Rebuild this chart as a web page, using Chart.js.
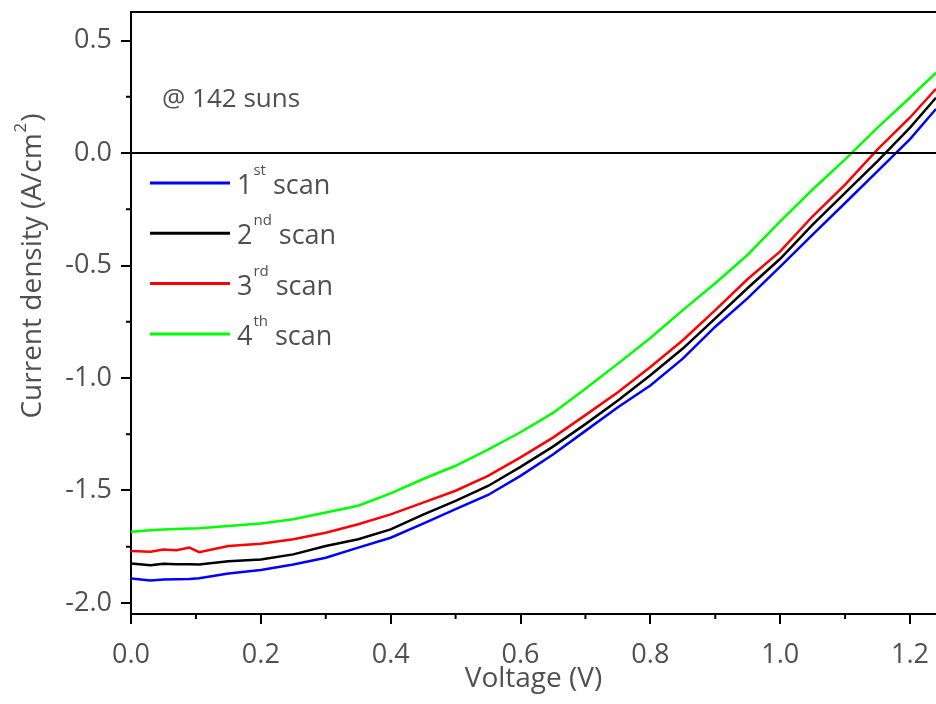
<!DOCTYPE html>
<html>
<head>
<meta charset="utf-8">
<script src="https://cdn.jsdelivr.net/npm/chart.js@4.4.0/dist/chart.umd.min.js"></script>
<style>
    html, body { margin: 0; padding: 0; background: #fff; }
    #wrap { width: 936px; height: 704px; }
</style>
</head>
<body>
<div id="wrap"><canvas id="chartIV" width="936" height="704"></canvas></div>
<script>
// voltage (V)
const voltage = [0, 0.03, 0.05, 0.07, 0.09, 0.105, 0.15, 0.2, 0.25, 0.3, 0.35, 0.4, 0.45, 0.5, 0.55,
    0.6, 0.65, 0.7, 0.75, 0.8, 0.85, 0.9, 0.95, 1.0, 1.05, 1.1, 1.15, 1.2, 1.24];

// current density (A/cm2), one array per scan
const scan1 = [-1.891, -1.900, -1.896, -1.895, -1.893, -1.890, -1.869, -1.853, -1.829, -1.799, -1.754, -1.710, -1.647, -1.583, -1.520,
    -1.435, -1.340, -1.235, -1.130, -1.033, -0.914, -0.772, -0.645, -0.505, -0.363, -0.222, -0.080, 0.062, 0.196];
const scan2 = [-1.824, -1.832, -1.826, -1.828, -1.828, -1.829, -1.815, -1.807, -1.784, -1.747, -1.717, -1.673, -1.607, -1.546, -1.480,
    -1.395, -1.305, -1.205, -1.100, -0.988, -0.869, -0.735, -0.600, -0.470, -0.318, -0.177, -0.036, 0.113, 0.246];
const scan3 = [-1.769, -1.772, -1.762, -1.766, -1.754, -1.774, -1.747, -1.737, -1.717, -1.688, -1.650, -1.606, -1.554, -1.501, -1.435,
    -1.353, -1.265, -1.165, -1.063, -0.951, -0.832, -0.698, -0.560, -0.437, -0.281, -0.140, 0.016, 0.158, 0.286];
const scan4 = [-1.683, -1.677, -1.673, -1.671, -1.669, -1.668, -1.658, -1.647, -1.628, -1.598, -1.568, -1.513, -1.449, -1.390, -1.318,
    -1.241, -1.155, -1.048, -0.936, -0.822, -0.698, -0.579, -0.452, -0.304, -0.162, -0.028, 0.113, 0.247, 0.357];

const scanNames = ['1', '2', '3', '4'];
const scanSuffix = ['st', 'nd', 'rd', 'th'];
const scanColors = ['#0000ff', '#000000', '#ff0000', '#00ff00'];

const xTicks = [0, 0.2, 0.4, 0.6, 0.8, 1.0, 1.2];
const xMinor = [0.1, 0.3, 0.5, 0.7, 0.9, 1.1];
const yTicks = [-2.0, -1.5, -1.0, -0.5, 0.0, 0.5];
const yMinor = [-1.75, -1.25, -0.75, -0.25, 0.25];

const FONT = '"Open Sans", "Noto Sans", sans-serif';
const TEXT_COLOR = '#505050';

function toPoints(ys) {
    return voltage.map((v, i) => ({ x: v, y: ys[i] }));
}

// draws frame extras, minor ticks, legend, note and axis titles
const extrasPlugin = {
    id: 'extras',
    afterDraw(chart) {
        const ctx = chart.ctx;
        const area = chart.chartArea;
        const xs = chart.scales.x;
        const ys = chart.scales.y;

        ctx.save();
        ctx.strokeStyle = '#000';
        ctx.lineWidth = 2;

        // top frame line
        ctx.beginPath();
        ctx.moveTo(area.left, area.top);
        ctx.lineTo(area.right, area.top);
        ctx.stroke();

        // zero line
        let y0 = ys.getPixelForValue(0);
        ctx.beginPath();
        ctx.moveTo(area.left, y0);
        ctx.lineTo(area.right, y0);
        ctx.stroke();

        // minor ticks
        ctx.beginPath();
        for (let v of xMinor) {
            let px = xs.getPixelForValue(v);
            ctx.moveTo(px, area.bottom);
            ctx.lineTo(px, area.bottom + 5);
        }
        for (let v of yMinor) {
            let py = ys.getPixelForValue(v);
            ctx.moveTo(area.left, py);
            ctx.lineTo(area.left - 5, py);
        }
        ctx.stroke();

        // legend
        for (let i = 0; i < scanNames.length; i++) {
            let ly = 183 + i * 50.3;
            ctx.strokeStyle = scanColors[i];
            ctx.lineWidth = 3;
            ctx.beginPath();
            ctx.moveTo(150, ly);
            ctx.lineTo(230, ly);
            ctx.stroke();

            ctx.fillStyle = TEXT_COLOR;
            ctx.textBaseline = 'alphabetic';
            ctx.textAlign = 'left';
            ctx.font = '27px ' + FONT;
            ctx.fillText(scanNames[i], 237, ly + 11);
            let w = ctx.measureText(scanNames[i]).width;
            ctx.font = '15px ' + FONT;
            ctx.fillText(scanSuffix[i], 237 + w + 1, ly - 8);
            let ws = ctx.measureText(scanSuffix[i]).width;
            ctx.font = '27px ' + FONT;
            ctx.fillText('scan', 237 + w + ws + 8, ly + 11);
        }

        // note
        ctx.fillStyle = TEXT_COLOR;
        ctx.font = '26px ' + FONT;
        ctx.textAlign = 'left';
        ctx.textBaseline = 'alphabetic';
        ctx.fillText('@ 142 suns', 162, 107);

        // x title
        ctx.font = '28px ' + FONT;
        ctx.textAlign = 'center';
        ctx.fillText('Voltage (V)', (area.left + area.right) / 2, 687);

        // y title with superscript
        ctx.translate(33, 266);
        ctx.rotate(-Math.PI / 2);
        ctx.textAlign = 'left';
        ctx.textBaseline = 'middle';
        let mainText = 'Current density (A/cm';
        ctx.font = '28px ' + FONT;
        let w1 = ctx.measureText(mainText).width;
        let w3 = ctx.measureText(')').width;
        ctx.font = '17px ' + FONT;
        let w2 = ctx.measureText('2').width;
        let start = -(w1 + w2 + w3 + 2) / 2;
        ctx.font = '28px ' + FONT;
        ctx.fillText(mainText, start, 0);
        ctx.font = '17px ' + FONT;
        ctx.fillText('2', start + w1 + 1, -12);
        ctx.font = '28px ' + FONT;
        ctx.fillText(')', start + w1 + w2 + 2, 0);

        ctx.restore();
    }
};

function initChart() {
    let canvas = document.getElementById('chartIV');
    let datasets = [scan1, scan2, scan3, scan4].map((data, i) => ({
        label: scanNames[i] + scanSuffix[i] + ' scan',
        data: toPoints(data),
        borderColor: scanColors[i],
        borderWidth: 2.5,
        pointRadius: 0,
        tension: 0,
        fill: false
    }));

    new Chart(canvas, {
        type: 'line',
        data: { datasets: datasets },
        options: {
            responsive: false,
            animation: false,
            layout: { padding: { top: 12, right: 0, left: 0, bottom: 0 } },
            plugins: {
                legend: { display: false },
                tooltip: { enabled: false }
            },
            scales: {
                x: {
                    type: 'linear',
                    min: 0,
                    max: 1.24,
                    afterBuildTicks: scale => { scale.ticks = xTicks.map(v => ({ value: v })); },
                    afterFit: scale => {
                        scale.height = 90;
                        scale.paddingLeft = 0;
                        scale.paddingRight = 0;
                    },
                    border: { display: true, color: '#000', width: 2 },
                    grid: { display: true, drawOnChartArea: false, drawTicks: true, tickLength: 10, color: '#000', lineWidth: 2 },
                    ticks: {
                        color: TEXT_COLOR,
                        font: { family: FONT, size: 27 },
                        padding: 15,
                        maxRotation: 0,
                        callback: value => value.toFixed(1)
                    }
                },
                y: {
                    type: 'linear',
                    min: -2.049,
                    max: 0.627,
                    afterBuildTicks: scale => { scale.ticks = yTicks.map(v => ({ value: v })); },
                    afterFit: scale => {
                        scale.width = 131;
                        scale.paddingTop = 0;
                        scale.paddingBottom = 0;
                    },
                    border: { display: true, color: '#000', width: 2 },
                    grid: { display: true, drawOnChartArea: false, drawTicks: true, tickLength: 10, color: '#000', lineWidth: 2 },
                    ticks: {
                        color: TEXT_COLOR,
                        font: { family: FONT, size: 27 },
                        padding: 9,
                        callback: value => value.toFixed(1)
                    }
                }
            }
        },
        plugins: [extrasPlugin]
    });
}

window.addEventListener('load', initChart);
</script>
</body>
</html>
